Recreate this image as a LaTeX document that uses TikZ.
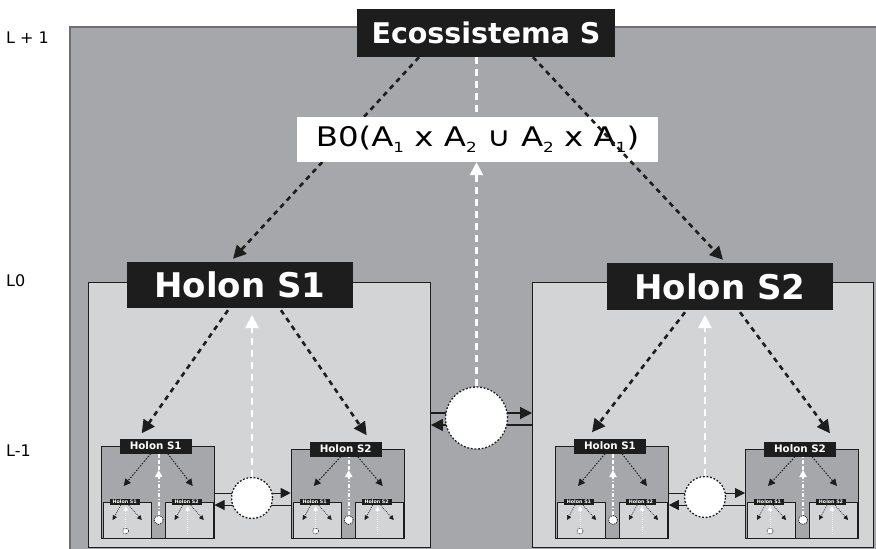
\documentclass[tikz,border=0pt]{standalone}
\usepackage{fontspec}
\setmainfont{DejaVu Sans}
\newfontfamily\widefont[FakeStretch=1.2]{DejaVu Sans}
\usetikzlibrary{arrows.meta,calc}

\definecolor{framegray}{HTML}{A6A7AA}
\definecolor{panelgray}{HTML}{D3D4D6}
\definecolor{labelblack}{HTML}{1D1D1D}
\definecolor{edgegray}{HTML}{707072}

\tikzset{
  darkpanel/.style={rectangle, fill=framegray, draw=labelblack, line width=0.8pt, inner sep=0pt, anchor=north west},
  lightpanel/.style={rectangle, fill=panelgray, draw=labelblack, line width=0.9pt, inner sep=0pt, anchor=north west},
  ecolab/.style={fill=labelblack, text=white, inner sep=0pt, minimum width=258pt, minimum height=48pt, font=\fontsize{28.5}{28.5}\selectfont\bfseries},
  biglab/.style={fill=labelblack, text=white, inner sep=0pt, minimum width=226pt, minimum height=46pt, font=\fontsize{34}{34}\selectfont\bfseries},
  minilab/.style={fill=labelblack, text=white, inner sep=0pt, minimum width=72pt, minimum height=15pt, font=\fontsize{10.3}{10.3}\selectfont\bfseries},
  tinylab/.style={fill=labelblack, text=white, inner sep=0pt, minimum width=30pt, minimum height=6pt, font=\fontsize{4.8}{4.8}\selectfont\bfseries},
  levellab/.style={anchor=west, inner sep=0pt, text=black, font=\fontsize{16}{16}\selectfont},
  formula/.style={fill=white, inner sep=0pt, minimum width=361pt, minimum height=45pt, font=\widefont\fontsize{27}{27}\selectfont},
  bubble/.style={circle, fill=white, draw=labelblack, line width=1.3pt, dash pattern=on 1.8pt off 1.8pt, inner sep=0pt},
  bigblack/.style={draw=labelblack, line width=2.6pt, dash pattern=on 5pt off 4.5pt, -{Triangle[length=13pt,width=13pt]}},
  bigwhite/.style={draw=white, line width=2.6pt, dash pattern=on 7pt off 5pt, -{Triangle[length=13pt,width=13pt]}},
  bigwhiteline/.style={draw=white, line width=2.6pt, dash pattern=on 7pt off 5pt},
  flowline/.style={draw=labelblack, line width=1.2pt, -{Triangle[length=12pt,width=12pt]}},
  midflow/.style={draw=labelblack, line width=1pt, -{Triangle[length=10pt,width=10pt]}},
  midblack/.style={draw=labelblack, line width=1pt, dash pattern=on 1.5pt off 1.5pt, -{Triangle[length=7pt,width=7pt]}},
  midwhite/.style={draw=white, line width=2pt, dash pattern=on 4pt off 2pt on 1pt off 2pt, -{Triangle[length=7pt,width=7pt]}},
  midwhiteline/.style={draw=white, line width=2pt, dash pattern=on 4pt off 2pt},
  tinyblack/.style={draw=labelblack, line width=0.6pt, dash pattern=on 1pt off 1pt, -{Triangle[length=4.5pt,width=4.5pt]}},
  tinywhite/.style={draw=white, line width=0.9pt, dash pattern=on 1pt off 1pt, -{Triangle[length=4.5pt,width=4.5pt]}},
}

\newcommand{\lowsub}[1]{\raisebox{-6pt}{\fontsize{14}{14}\selectfont #1}}

% smallest cell: label, two outgoing links, one upward link
% #1 name, #2 left x, #3 label, #4 = 1 when the cell holds a bubble
\newcommand{\tinycell}[4]{%
  \node[lightpanel, minimum width=48pt, minimum height=36pt] (#1) at (#2,502) {};
  \node[tinylab] (#1-lab) at (#2+22,502) {#3};
  \coordinate (#1-l) at (#2+10,520);
  \coordinate (#1-r) at (#2+39,520);
  \draw[tinyblack] ([xshift=-4pt]#1-lab.south) -- (#1-l);
  \draw[tinyblack] ([xshift=4pt]#1-lab.south) -- (#1-r);
  \ifnum#4=1
    \node[bubble, minimum size=6pt, line width=0.6pt, dash pattern=on 0.8pt off 0.8pt] (#1-c) at (#2+23,531) {};
  \else
    \coordinate (#1-c) at (#2+23,534);
  \fi
  \draw[tinywhite, shorten >=1pt] (#1-c) -- (#1-c |- #1-lab.south);
}

% holon one level down: dark panel with two cells
% #1 name, #2 left x, #3 top y, #4 label
\newcommand{\subholon}[4]{%
  \node[darkpanel, minimum width=113pt, minimum height=538pt-#3pt] (#1) at (#2,#3) {};
  \tinycell{#1-a}{#2+2}{Holon S1}{1}
  \tinycell{#1-b}{#2+64}{Holon S2}{0}
  \node[minilab] (#1-lab) at (#2+55,#3) {#4};
  \coordinate (#1-l) at (#2+23,486);
  \coordinate (#1-r) at (#2+92,486);
  \draw[midblack] ([xshift=-5pt]#1-lab.south) -- (#1-l);
  \draw[midblack] ([xshift=12pt]#1-lab.south) -- (#1-r);
  \node[bubble, minimum size=9pt, line width=0.8pt, dash pattern=on 1pt off 1pt] (#1-c) at (#2+58,520) {};
  \coordinate (#1-m) at (#2+58,470);
  \draw[midwhiteline] (#1-m) -- (#1-m |- #1-lab.south);
  \draw[midwhite] (#1-c) -- (#1-m);
}

\begin{document}
\begin{tikzpicture}[x=1pt,y=-1pt]
\useasboundingbox (0,0) rectangle (876,549);
\clip (0,0) rectangle (876,549);

% ecosystem frame
\fill[framegray] (70,27) rectangle (882,556);
\draw[edgegray, line width=1.3pt] (70,556) -- (70,27) -- (882,27);

% level names
\node[levellab] (lvtop) at (6,37.5) {L + 1};
\node[levellab] (lvmid) at (6,281) {L0};
\node[levellab] (lvlow) at (6,451) {L-1};

% level 0 panels
\node[lightpanel, minimum width=342pt, minimum height=265pt] (Lbox) at (88,282) {};
\node[lightpanel, minimum width=341pt, minimum height=265pt] (Rbox) at (532,282) {};

\subholon{la}{100.7}{446}{Holon S1}
\subholon{lb}{290.7}{449}{Holon S2}
\subholon{ra}{555}{446}{Holon S1}
\subholon{rb}{745}{449}{Holon S2}

% exchanges inside the two holons
\draw[midflow] (la.east |- 0,493) -- (lb.west |- 0,493);
\draw[midflow] (lb.west |- 0,505) -- (la.east |- 0,505);
\node[bubble, minimum size=41pt] (Lc) at (252,498) {};
\draw[midflow] (ra.east |- 0,493) -- (rb.west |- 0,493);
\draw[midflow] (rb.west |- 0,505) -- (ra.east |- 0,505);
\node[bubble, minimum size=41pt] (Rc) at (705,497) {};

\node[biglab] (hs1) at (240,285) {Holon S1};
\node[biglab, minimum height=47pt] (hs2) at (720,286.5) {Holon S2};

\draw[bigblack] ([xshift=-12pt,yshift=-2pt]hs1.south) -- ([xshift=-14pt,yshift=5pt]la-lab.north);
\draw[bigblack] ([xshift=41pt,yshift=-2pt]hs1.south) -- ([xshift=21pt,yshift=6pt]lb-lab.north);
\draw[bigblack] ([xshift=-35pt,yshift=-2pt]hs2.south) -- ([xshift=-18pt,yshift=6pt]ra-lab.north);
\draw[bigblack] ([xshift=20pt,yshift=-2pt]hs2.south) -- ([xshift=30pt,yshift=8pt]rb-lab.north);
\draw[bigwhite] (Lc) -- (Lc |- 0,315);
\draw[bigwhite] (Rc) -- (Rc |- 0,315);

% exchange between the two holons
\draw[flowline] (Lbox.east |- 0,413) -- (Rbox.west |- 0,413);
\draw[flowline] (Rbox.west |- 0,425) -- (Lbox.east |- 0,425);
\node[bubble, minimum size=62pt] (tc) at (476.5,418) {};

% ecosystem level
\node[ecolab] (eco) at (486,33) {Ecossistema S};
\draw[bigblack] ([xshift=-67pt]eco.south) -- ([xshift=-7pt,yshift=3pt]hs1.north);
\node[formula] (bzero) at (477.5,139.5) {B0(A\lowsub{1} x A\lowsub{2} ∪ A\lowsub{2} x A\lowsub{1})};
\draw[bigblack] ([xshift=47pt]eco.south) -- ([xshift=3pt,yshift=3pt]hs2.north);
\draw[bigwhiteline] (tc |- eco.south) -- (tc |- bzero.north);
\draw[bigwhite] (tc) -- (tc |- bzero.south);
\end{tikzpicture}
\end{document}
